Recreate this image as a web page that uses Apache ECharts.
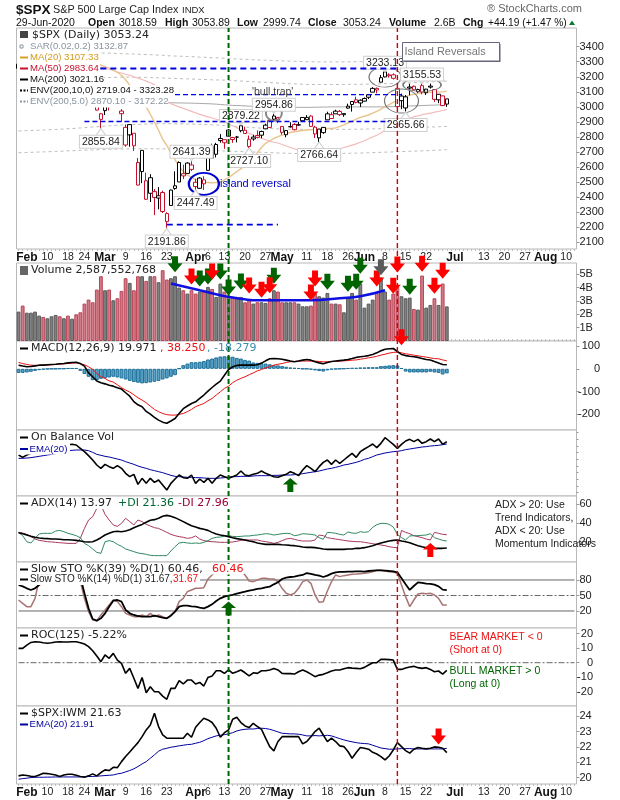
<!DOCTYPE html>
<html>
<head>
<meta charset="utf-8">
<script src="https://cdn.jsdelivr.net/npm/echarts@6/dist/echarts.min.js"></script>
<style>
  html, body { margin: 0; background: #fff; }
  #chart { width: 620px; height: 800px; }
</style>
</head>
<body>
<div id="chart"></div>
<script>
const dates = [
  'Jan 30','Jan 31','Feb 3','Feb 4','Feb 5','Feb 6','Feb 7','Feb 10','Feb 11','Feb 12','Feb 13','Feb 14',
  'Feb 18','Feb 19','Feb 20','Feb 21','Feb 24','Feb 25','Feb 26','Feb 27','Feb 28','Mar 2','Mar 3','Mar 4','Mar 5','Mar 6',
  'Mar 9','Mar 10','Mar 11','Mar 12','Mar 13','Mar 16','Mar 17','Mar 18','Mar 19','Mar 20','Mar 23','Mar 24','Mar 25','Mar 26','Mar 27',
  'Mar 30','Mar 31','Apr 1','Apr 2','Apr 3','Apr 6','Apr 7','Apr 8','Apr 9','Apr 13','Apr 14','Apr 15','Apr 16','Apr 17',
  'Apr 20','Apr 21','Apr 22','Apr 23','Apr 24','Apr 27','Apr 28','Apr 29','Apr 30','May 1','May 4','May 5','May 6','May 7','May 8',
  'May 11','May 12','May 13','May 14','May 15','May 18','May 19','May 20','May 21','May 22','May 26','May 27','May 28','May 29',
  'Jun 1','Jun 2','Jun 3','Jun 4','Jun 5','Jun 8','Jun 9','Jun 10','Jun 11','Jun 12','Jun 15','Jun 16','Jun 17','Jun 18','Jun 19',
  'Jun 22','Jun 23','Jun 24','Jun 25','Jun 26','Jun 29','Jun 30','Jul 1','Jul 2','Jul 6','Jul 7','Jul 8','Jul 9','Jul 10',
  'Jul 13','Jul 14','Jul 15','Jul 16','Jul 17','Jul 20','Jul 21','Jul 22','Jul 23','Jul 24','Jul 27','Jul 28','Jul 29','Jul 30','Jul 31',
  'Aug 3','Aug 4','Aug 5','Aug 6','Aug 7','Aug 10','Aug 11','Aug 12'
]
const monthTicks = { 'Feb 3': 'Feb', 'Mar 2': 'Mar', 'Apr 1': 'Apr', 'May 1': 'May', 'Jun 1': 'Jun', 'Jul 1': 'Jul', 'Aug 3': 'Aug' }
const weekTicks = {
  'Feb 10': '10', 'Feb 18': '18', 'Feb 24': '24', 'Mar 9': '9', 'Mar 16': '16', 'Mar 23': '23', 'Apr 6': '6', 'Apr 13': '13',
  'Apr 20': '20', 'Apr 27': '27', 'May 11': '11', 'May 18': '18', 'May 26': '26', 'Jun 8': '8', 'Jun 15': '15', 'Jun 22': '22',
  'Jul 13': '13', 'Jul 20': '20', 'Jul 27': '27', 'Aug 10': '10'
}

const opens = [
  3256,3282,3235,3281,3324,3344,3335,3318,3366,3370,
  3365,3378,3369,3380,3380,3360,3258,3238,3140,3063,
  2917,2975,3096,3046,3076,2955,2864,2814,2825,2631,
  2570,2509,2426,2437,2394,2431,2291,2345,2458,2501,
  2556,2558,2614,2499,2459,2515,2578,2739,2685,2776,
  2782,2805,2796,2799,2842,2845,2785,2787,2810,2812,
  2854,2909,2918,2930,2870,2815,2868,2883,2879,2908,
  2915,2939,2865,2794,2829,2914,2948,2954,2970,2948,
  3005,3016,3047,3026,3038,3064,3098,3123,3164,3199,
  3213,3213,3123,3072,2993,3132,3137,3101,3141,3094,
  3138,3115,3047,3073,3018.59
]
const highs = [
  3285,3282,3268,3306,3337,3347,3341,3352,3376,3381,
  3385,3381,3375,3394,3390,3360,3260,3247,3182,3097,
  2960,3091,3136,3130,3083,2985,2883,2883,2825,2661,
  2711,2563,2553,2454,2467,2443,2300,2450,2572,2638,
  2616,2632,2641.39,2522,2533,2539,2677,2756,2761,2819,
  2782,2852,2801,2807,2879.22,2868,2810,2815,2844,2842,
  2888,2922,2954.86,2930,2870,2845,2898,2892,2901,2932,
  2945,2945,2874,2852,2865,2968,2965,2981,2979,2957,
  3021,3037,3068,3050,3063,3081,3131,3129,3212,3233.13,
  3223,3223,3123,3088,3079,3154,3142,3121,3155.53,3120,
  3155,3115,3086,3074,3053.89
]
const lows = [
  3242,3214,3235,3281,3313,3334,3322,3317,3355,3369,
  3360,3367,3355,3378,3341,3328,3214,3118,3109,2977,
  2855.84,2946,2976,3034,2999,2901,2735,2735,2707,2478,
  2493,2381,2368,2281,2319,2295,2191.86,2345,2449,2501,
  2520,2558,2573,2447.49,2455,2448,2574,2657,2664,2762,
  2721,2805,2761,2764,2831,2820,2727.1,2775,2791,2791,
  2852,2860,2912,2892,2816,2798,2863,2844,2876,2908,
  2914,2870,2793,2766.64,2821,2914,2922,2954,2939,2934,
  2988,2969,3023,2999,3036,3052,3098,3090,3164,3197,
  3194,3182,2999,2985,2965.66,3077,3108,3094,3083,3079,
  3122,3033,3025,3005,2999.74
]
const closes = [
  3283.7,3225.5,3248.9,3297.6,3334.7,3345.8,3327.7,3352.1,3357.8,3379.5,
  3373.9,3380.2,3370.3,3386.2,3373.2,3337.8,3225.9,3128.2,3116.4,2978.8,
  2954.2,3090.2,3003.4,3130.1,3023.9,2972.4,2746.6,2882.2,2741.4,2480.6,
  2711,2386.1,2529.2,2398.1,2409.4,2304.9,2237.4,2447.3,2475.6,2630.1,
  2541.5,2626.7,2584.6,2470.5,2526.9,2488.7,2663.7,2659.4,2750,2789.8,
  2761.6,2846.1,2783.4,2799.6,2874.6,2823.2,2736.6,2799.3,2797.8,2836.7,
  2878.5,2863.4,2939.5,2912.4,2830.7,2842.7,2868.4,2848.4,2881.2,2929.8,
  2930.2,2870.1,2820,2852.5,2863.7,2953.9,2922.9,2971.6,2948.5,2955.5,
  2991.8,3036.1,3029.7,3044.3,3055.7,3080.8,3122.9,3112.4,3193.9,3232.4,
  3207.2,3190.1,3002.1,3041.3,3066.6,3124.7,3113.5,3115.3,3097.7,3117.9,
  3131.3,3050.3,3083.8,3009.1,3053.24
]

const ma20 = [
  3280,3280,3281,3283,3287,3292,3296,3300,3304,3308,
  3312,3316,3320,3323,3325,3326,3322,3315,3306,3292,
  3277,3268,3258,3245,3230,3210,3180,3145,3110,3080,
  3040,3000,2950,2900,2845,2785,2745,2690,2650,2605,
  2570,2548,2530,2518,2510,2502,2497,2496,2497,2500,
  2515,2530,2550,2570,2590,2610,2630,2665,2695,2730,
  2758,2775,2790,2802,2813,2822,2830,2835,2840,2843,
  2846,2848,2850,2852,2854,2856,2857,2860,2870,2880,
  2893,2905,2918,2930,2938,2946,2958,2970,2985,3000,
  3015,3030,3045,3060,3068,3078,3084,3090,3093,3095,
  3097,3098,3100,3100,3105
]
const ma50 = [
  3200,3204,3208,3212,3216,3220,3224,3228,3232,3236,
  3240,3243,3246,3249,3252,3254,3256,3258,3260,3261,
  3262,3256,3250,3242,3232,3225,3217,3209,3200,3191,
  3182,3171,3160,3148,3125,3085,3035,3022,3010,3000,
  2990,2980,2970,2960,2950,2942,2934,2926,2918,2909,
  2900,2888,2875,2862,2848,2836,2824,2812,2800,2790,
  2782,2772,2765,2760,2750,2740,2730,2722,2712,2703,
  2698,2693,2690,2690,2693,2700,2707,2714,2722,2730,
  2738,2746,2754,2765,2775,2788,2800,2812,2826,2843,
  2858,2872,2885,2900,2912,2922,2935,2940,2948,2953,
  2958,2965,2970,2976,2983.6
]
const ma200 = [
  3012,3012,3013,3013,3014,3014,3015,3015,3016,3016,
  3017,3017,3018,3018,3019,3019,3020,3020,3021,3021,
  3022,3022,3023,3023,3024,3024,3025,3025,3026,3026,
  3026,3027,3027,3027,3028,3028,3028,3027,3027,3026,
  3026,3025,3025,3024,3023,3022,3021,3020,3018,3016,
  3014,3012,3010,3009,3008,3006,3005,3004,3003,3002,
  3001,3000,2999,2998,2997,2997,2997,2997,2997,2997,
  2997,2997,2998,2998,2999,2999,3000,3000,3000,3000,
  3000,3000,3000,3000,3000,3000,3000,3000,3000,3000,
  3001,3002,3003,3004,3005,3006,3007,3008,3009,3010,
  3011,3012,3013,3014,3016
]
const envUpper10 = [
  3290,3295,3300,3305,3310,3315,3320,3325,3330,3335,
  3340,3344,3348,3351,3354,3356,3357,3358,3358,3358,
  3358,3358,3357,3356,3355,3354,3353,3352,3351,3350,
  3349,3348,3347,3346,3344,3343,3340,3339,3338,3337,
  3336,3335,3334,3332,3331,3330,3328,3327,3326,3324,
  3323,3321,3320,3318,3317,3316,3314,3313,3312,3311,
  3310,3309,3308,3307,3306,3305,3304,3303,3302,3301,
  3300,3300,3300,3299,3299,3299,3299,3299,3299,3299,
  3299,3300,3300,3300,3300,3300,3301,3302,3303,3304,
  3305,3306,3307,3308,3310,3311,3312,3314,3315,3316,
  3318,3319,3320,3322,3323
]
const envUpper5 = [
  3140,3144,3148,3152,3156,3160,3163,3166,3169,3172,
  3175,3178,3180,3182,3184,3186,3187,3188,3189,3190,
  3192,3194,3195,3196,3197,3198,3198,3198,3198,3197,
  3197,3196,3195,3194,3193,3192,3191,3190,3189,3188,
  3187,3186,3185,3184,3183,3182,3181,3180,3179,3179,
  3178,3176,3175,3173,3172,3170,3169,3167,3166,3164,
  3163,3161,3160,3158,3157,3155,3154,3153,3152,3150,
  3149,3149,3149,3149,3149,3149,3149,3149,3149,3149,
  3150,3150,3150,3150,3151,3151,3152,3152,3153,3154,
  3155,3155,3156,3157,3158,3160,3161,3162,3164,3165,
  3166,3168,3169,3170,3172
]
const envLower5 = [
  2840,2841,2842,2843,2844,2845,2846,2847,2849,2850,
  2852,2853,2855,2856,2858,2860,2862,2864,2866,2868,
  2870,2872,2874,2876,2878,2880,2881,2882,2883,2884,
  2885,2886,2887,2887,2888,2888,2888,2888,2887,2887,
  2887,2886,2886,2885,2884,2883,2882,2881,2880,2878,
  2876,2874,2872,2870,2868,2866,2864,2862,2860,2858,
  2857,2856,2855,2854,2853,2852,2852,2851,2851,2850,
  2850,2850,2850,2850,2850,2850,2850,2850,2851,2851,
  2851,2851,2852,2852,2853,2853,2854,2854,2855,2856,
  2857,2857,2858,2859,2860,2861,2862,2863,2864,2865,
  2866,2867,2868,2869,2870
]
const envLower10 = [
  2695,2696,2697,2698,2699,2700,2701,2702,2703,2704,
  2705,2706,2708,2709,2710,2711,2712,2713,2714,2715,
  2716,2717,2718,2719,2720,2720,2721,2721,2722,2722,
  2722,2722,2722,2722,2721,2721,2720,2720,2719,2718,
  2717,2716,2715,2714,2713,2712,2711,2710,2709,2708,
  2707,2706,2705,2704,2703,2702,2701,2700,2699,2698,
  2697,2696,2695,2694,2693,2692,2691,2690,2690,2689,
  2689,2689,2689,2689,2690,2690,2690,2690,2691,2691,
  2692,2692,2693,2693,2694,2695,2696,2697,2698,2699,
  2700,2701,2702,2703,2704,2705,2706,2707,2708,2709,
  2710,2711,2712,2714,2716
]

// billions of shares
const volume = [
  2.2,2.65,2.12,2.12,2.2,1.9,1.8,1.7,1.85,1.95,
  1.85,1.7,1.9,1.67,2,2.15,2.8,3.1,2.9,3.85,
  4.85,3.8,3.85,3.05,3.2,3.75,4.7,4.35,3.8,4.85,
  4.85,4.5,4.85,4.85,4.4,5.3,4.6,4.7,4.85,4,
  3.8,3.55,3.8,3.55,3.7,3.7,4.05,3.9,3.3,4.3,
  3.7,3.3,3.3,3.3,3.3,2.9,3.1,2.8,2.9,2.9,
  2.85,3.2,3.8,3.7,2.9,2.9,2.9,2.9,2.8,2.6,
  2.6,2.65,3.55,3.35,3.25,3.6,2.8,2.8,2.75,2.15,
  3.25,3.6,3.1,4.3,2.5,2.8,3.1,3.6,4.75,3.7,
  3.1,3.55,4.05,3.35,3.2,3.25,2.4,2.35,4.9,2.5,
  2.7,3.2,2.7,4.3,2.59
]
const volumeCurve = [[37,4.3],[44,3.8],[52,3.25],[60,3.05],[71,3.05],[78,3.2],[83,3.35],[89,3.8]]

const macdLine = [
  16,12,9,10,13,16,16,18,19,20,
  22,23,26,28,29,23,12,-18,-35,-53,
  -61,-66,-72,-76,-83,-89,-105,-120,-144,-158,
  -166,-187,-199,-213,-225,-234,-239,-229,-218,-196,
  -175,-163,-152,-145,-130,-115,-98,-82,-67,-54,
  -28,-3,9,15,16,16,16,16,18,25,
  35,44,45,44,42,38,34,31,34,38,
  41,38,31,26,22,28,32,34,36,38,
  41,45,50,53,55,58,63,70,79,86,
  88,89,76,63,58,55,53,50,45,41,
  39,32,26,19,18
]
const macdSignal = [
  28,23,19,16,15,15,16,16,18,19,
  20,22,23,25,26,22,18,9,-3,-20,
  -35,-42,-53,-58,-70,-83,-93,-102,-114,-127,
  -137,-149,-164,-178,-188,-196,-201,-203,-203,-200,
  -196,-188,-178,-166,-159,-152,-140,-130,-115,-101,
  -86,-76,-61,-50,-42,-35,-26,-18,-9,-3,
  4,10,16,20,23,28,31,32,34,34,
  34,34,34,32,31,31,32,32,34,35,
  36,38,39,42,45,48,51,55,60,64,
  69,72,73,70,66,63,60,57,54,51,
  48,45,44,39,35
]
const macdHist = [
  -18,-18,-16,-13,-9,-6,-3,-1,0,0,
  1,1,3,3,3,-9,-23,-35,-50,-50,
  -44,-41,-38,-35,-38,-42,-47,-53,-58,-61,
  -64,-63,-60,-57,-53,-47,-42,-35,-28,1,
  16,23,29,29,31,34,41,45,50,54,
  55,55,53,48,45,39,36,28,26,25,
  23,20,16,15,12,9,6,4,3,0,
  0,-3,-7,-10,-12,-7,-3,-1,0,1,
  3,4,4,6,6,7,7,7,12,13,
  15,16,15,3,-12,-16,-16,-16,-16,-16,
  -13,-16,-18,-25,-20
]

// OBV has no printed scale: read as height above the panel floor
const obv = [
  123,116,123,128,133,135,138,137,138,143,
  145,148,153,155,153,143,133,121,108,93,
  83,95,88,83,91,83,68,58,65,35,
  53,38,53,41,48,33,18,38,51,63,
  55,53,63,38,51,41,53,38,53,63,
  58,53,58,63,75,63,61,65,68,75,
  68,63,58,56,61,65,73,68,61,78,
  91,83,73,88,101,108,95,108,98,108,
  118,128,116,133,141,148,156,145,158,175,
  165,155,143,155,165,170,163,170,158,163,
  171,163,171,155,163
]
const obvEma = [
  113,113,114,115,117,119,121,123,125,127,
  129,133,136,137,138,138,138,136,131,125,
  122,119,117,114,111,108,103,99,95,90,
  86,83,79,76,73,70,66,62,59,58,
  57,56,56,55,55,54,53,53,53,54,
  55,57,58,58,59,59,59,60,61,61,
  61,61,62,62,63,63,63,64,65,67,
  69,71,73,75,78,81,83,86,89,93,
  95,98,101,105,110,113,118,123,126,129,
  131,133,134,136,139,141,143,145,147,148,
  150,151,152,154,156
]

const adx = [
  30.2,29.1,27.7,26.3,25.3,24.6,24.2,23.9,23.5,23.5,
  23.2,22.8,22.8,22.5,22.1,21.4,20.7,20.4,20.7,22.5,
  24.9,27.7,29.5,31.2,31.6,31.2,31.9,33.3,35.4,37.2,
  38.9,41.1,43.2,43.9,45.3,47.4,48.4,47.4,46,43.9,
  41.8,39.6,37.5,36.1,34.7,33.7,32.6,30.5,28.8,27.7,
  27,26,24.9,23.9,23.2,22.5,21.4,20.7,19.3,18.6,
  17.9,17.9,17.9,17.9,17.5,17.2,16.8,16.5,15.8,15.1,
  14.7,14.7,14.4,13.7,13,12.6,12.6,12.6,12.6,12.6,
  13,13,13.7,13.7,14.4,15.4,16.5,17.9,19.3,20.4,
  21.4,22.1,22.5,21.4,20.7,19.6,17.9,16.5,15.4,14.4,
  14,13.7,13.7,13.7,14
]
const plusDI = [
  30.5,27,20.7,19.3,24.2,28.8,29.5,29.5,29.5,31.9,
  32.6,31.2,29.5,28.4,27,24.9,18.9,16.5,13,9.5,
  8.4,20.7,21.8,20.7,17.9,15.8,13,11.6,10.2,8.8,
  8.1,7.4,6.3,6,6,6,6,10.9,15.4,19.3,
  20,19.3,18.9,19.3,18.9,20,21.8,24.2,25.3,25.6,
  26.7,27,26.3,26,26.3,26.7,26.7,27.4,27.7,28.4,
  29.1,28.8,27.7,28.4,29.1,29.5,29.1,27,27.7,29.1,
  28.8,28.4,27.7,24.9,23.2,30.5,30.2,29.5,28.4,27.7,
  30.9,29.8,29.5,31.2,30.5,31.2,35.8,38.6,40,40,
  39,36.1,28.4,24.9,22.5,26.7,27,27,27.4,27.7,
  29.1,24.9,23.5,22.1,21.4
]
const minusDI = [
  30.5,29.8,28.4,26.3,23.5,22.1,21.4,20.7,20.4,20,
  19.6,19.3,18.9,18.9,18.9,24.2,34.7,43.5,47,55.8,
  59.3,49.5,43.5,38.3,36.8,40,45.3,41.8,38.3,43.5,
  41.8,39,37.2,35.4,34.7,32.6,30.5,28.4,27,26,
  25.3,24.2,24.9,26.7,23.5,21.8,21.1,20.7,20.4,20,
  20,20,20.4,21.1,22.1,22.5,22.5,22.5,22.5,21.4,
  20.7,20,18.9,20,21.8,23.5,24.2,23.2,22.1,21.4,
  21.4,21.4,22.5,27.7,27,24.9,24.2,23.5,22.8,22.1,
  21.4,21.1,20.7,20.7,20,19.3,18.6,17.9,17.2,16.5,
  15.4,14.7,14.4,32.6,30.5,29.1,27,26,24.9,23.5,
  22.5,30.5,29.5,28.4,28
]

const sto39 = [
  70.3,67.7,63.9,60.7,63.9,70.3,76.8,80,83.2,86.5,
  89.7,92.9,96.1,96.1,96.1,86.5,54.2,25.2,4.5,1.3,
  5.8,15.5,28.4,40,41.3,38.1,22,15.5,12.3,10.3,
  9,9,9,11,9,7.1,5.8,11,18.7,28.4,
  30.3,30.3,29,28.4,26.5,25.2,28.4,32.9,39.4,44.5,
  47.8,49.7,51,53.6,55.5,57.4,59.4,60.7,62.6,63.9,
  65.8,67.1,71.6,75.5,81.9,84.5,85.8,86.5,88.4,89.7,
  93.5,91.6,89.7,88.4,85.8,88.4,92.3,94.8,95.5,95.5,
  96.1,96.1,96.8,96.8,96.1,97.4,98.1,98.7,98.7,98.1,
  97.4,96.8,94.8,83.2,71.6,60.7,68.4,75.5,74.2,72.9,
  72.3,71,67.7,61.3,60.46
]
const sto14 = [
  41.3,34.9,28.4,28.4,44.5,80,96.1,90,88,85,
  82,85,88,90,96,76.8,44.5,18.7,2.6,1.3,
  12.3,22,31.6,41.3,38.1,28.4,15.5,12.3,9,9,
  12.3,9,15.5,9,12.3,9,5.8,12.3,18.7,38.1,
  44.5,57.4,60.7,63.9,63.9,65.2,81.9,89.7,96.1,99.4,
  96.1,92.9,92.9,92.9,94.8,89.7,78.1,76.8,80,83.2,
  83.2,81.9,81.9,76.8,63.9,54.2,51,54.2,63.9,76.8,
  80,73.5,51,36.8,38.1,58.7,76.8,89.7,86.5,88.4,
  89.7,91,91.6,92.3,92.9,94.2,96.1,98.7,98.7,97.4,
  96.1,95.5,92.9,70.3,47.8,28.4,41.3,52.9,54.2,53.6,
  54.2,51,44.5,31.6,31.67
]

const roc = [
  9.8,9.8,12.1,13.9,14.4,14.2,13.7,13.3,13.7,14.2,
  14.4,14.2,14.2,14.4,14.4,13.7,12.8,11,8.2,4.6,
  0.7,5.3,3,6.4,1.8,-0.5,-7.3,-3.9,-10.7,-17.6,
  -10.1,-20.6,-16.5,-19.9,-19.9,-22.9,-25.1,-17.6,-17.6,-12.3,
  -14.6,-11.9,-11.9,-14.6,-13.5,-16,-10.1,-9.1,-5.5,-5.5,
  -7.3,-5,-7.3,-6.2,-5,-6.9,-9.1,-6.9,-7.3,-5.5,
  -5.5,-5,-3.9,-5,-7.3,-7.5,-7.5,-7.8,-6.2,-5,
  -6.2,-7.8,-9.6,-8.5,-8,-6.9,-5.7,-5,-5,-4.1,
  -3.4,-3.7,-3.9,-4.1,-3.2,-1.6,0,0,2.3,2.3,
  2.1,1.8,-4.6,-4.6,-3.7,-3,-2.5,-3.4,-3.9,-3.4,
  -4.6,-6.2,-5.7,-7.8,-5.22
]

const ratio = [
  20.11,20.17,20.13,20.09,20.07,20.17,20.28,20.26,20.22,20.17,
  20.07,20.17,20.22,20.22,20.15,20.07,20.02,20.11,20.24,20.11,
  20.33,20.5,20.46,20.67,20.65,21.04,21.37,21.67,21.98,22.28,
  22.67,23.11,23.43,24.2,23.33,22.78,22.57,22.57,22.57,22.57,
  22.57,22.89,22.63,23.28,23.59,23.87,23.76,23.59,23.22,22.63,
  22.93,23.11,23.8,23.93,23.59,23.37,23.26,23.54,23.33,23.15,
  22.57,22.02,21.74,22.35,22.67,22.67,22.67,22.67,22.67,22.2,
  22.35,22.67,23,23.22,22.78,22.35,22.57,22.35,22.07,22.02,
  21.7,21.26,21.63,21.96,21.91,21.85,21.65,21.54,21.37,21.15,
  21.41,21.8,22.28,22.02,21.76,21.59,21.85,21.96,21.91,21.87,
  21.91,22,21.98,21.91,21.63
]
const ratioEma = [
  19.89,19.93,19.96,20,20.02,20.02,20.02,20.03,20.03,20.04,
  20.04,20.04,20.04,20.04,20.04,20.04,20.07,20.07,20.07,20.09,
  20.11,20.13,20.15,20.17,20.24,20.28,20.37,20.46,20.57,20.72,
  20.89,21.04,21.26,21.48,21.72,21.85,21.91,21.98,22.02,22.07,
  22.11,22.15,22.17,22.24,22.3,22.41,22.54,22.63,22.72,22.76,
  22.8,22.85,22.93,23.04,23.11,23.15,23.17,23.17,23.2,23.22,
  23.2,23.15,23.07,22.98,22.89,22.87,22.85,22.85,22.83,22.78,
  22.72,22.72,22.74,22.72,22.74,22.76,22.72,22.63,22.54,22.46,
  22.39,22.33,22.28,22.24,22.22,22.2,22.11,22.02,21.93,21.89,
  21.85,21.85,21.87,21.89,21.89,21.89,21.87,21.87,21.87,21.87,
  21.87,21.87,21.87,21.87,21.91
]

const priceTicks = [2100,2200,2300,2400,2500,2600,2700,2800,2900,3000,3100,3200,3300,3400]
const volumeTicks = [1,2,3,4,5]
const macdTicks = [-200,-100,0,100]
const adxTicks = [20,40,60]
const stoTicks = [20,50,80]
const rocTicks = [-20,-10,0,10,20]
const ratioTicks = [20,21,22,23,24]

// annotations drawn on the chart by hand
const lowCallouts = [[20,2855.84],[36,2191.86],[43,2447.49],[56,2727.1],[73,2766.64],[94,2965.66]]
const highCallouts = [[42,2641.39],[54,2879.22],[62,2954.86],[89,3233.13],[98,3155.53]]
const heavyLevels = [[[15,3255],[92,3255]], [[36,2217],[63,2217]]]
const lightLevels = [[[38,3082],[93,3082]], [[16,2903],[90,2903]]]
const ellipses = [[89,3198,32,20],[98,3146,38,13],[93,3039,34,24]]
const blueRing = [[45,2488,30,22]]
const grayRing = [[62,2960,16,16]]
const greenDown = [[38,5.75],[44,4.68],[46,4.83],[49,5.21],[51,4],[54,4.46],[62,4.88],[75,4.43],[80,4.28],[82,4.43],[83,5.63],[95,4.06]]
const redDown = [[42,4.83],[47,5.21],[56,4.16],[59,3.84],[61,4.18],[71,3.63],[72,4.68],[87,4.68],[91,4.13],[92,5.73],[98,5.78],[101,4.13],[103,5.26],[93,0.28]]
const grayDown = [[88,5.53]]
const obvUp = [[66,33]]
const stoUp = [[51,25]]
const adxUp = [[100,11.9]]
const ratioDown = [[102,22.68]]
const greenMarker = [[51,0],[51,1]]
const redMarker = [[92,0],[92,1]]

const SANS = '"Liberation Sans", Arial, sans-serif'
const WIDE = '"DejaVu Sans", Verdana, sans-serif'
const RED = '#c8102e'
const ARROW_DOWN = 'path://M4.5 0H10.5V7H15L7.5 16L0 7H4.5Z'
const ARROW_UP = 'path://M7.5 0L15 7H10.5V15H4.5V7H0Z'

const panels = [
  { top: 28, height: 221, min: 2055.5, max: 3524.3, ticks: priceTicks },
  { top: 263, height: 78, min: 0, max: 5.84, ticks: volumeTicks, fmt: v => v + 'B' },
  { top: 341, height: 89, min: -268.4, max: 122, ticks: macdTicks, right: 23.5 },
  { top: 430, height: 66, min: 0, max: 198, ticks: [], minor: [10,30,50,70,90,110,130,150,170,190] },
  { top: 496, height: 66, min: -0.7, max: 68.8, ticks: adxTicks },
  { top: 562, height: 66, min: -12.9, max: 114.8, ticks: stoTicks },
  { top: 628, height: 78, min: -29.7, max: 23.8, ticks: rocTicks, right: 16.5 },
  { top: 706, height: 78, min: 19.58, max: 24.67, ticks: ratioTicks }
]
const OVERLAY = panels.length

const grids = panels.map(p => ({
  left: 16.5, width: 560, top: p.top, height: p.height, show: true,
  borderColor: '#b8b8b8', borderWidth: 1, backgroundColor: '#fff', z: 0
}))
grids.push({ left: 16.5, width: 560, top: 28, height: 756 })

const timeLabel = {
  show: true, margin: 3, color: '#222', fontFamily: SANS, fontSize: 10.5,
  interval: (i, v) => v in monthTicks || v in weekTicks,
  formatter: v => (v in monthTicks ? `{m|${monthTicks[v]}}` : weekTicks[v] || ''),
  rich: { m: { fontFamily: SANS, fontSize: 12, fontWeight: 'bold', color: '#111' } }
}
const xAxes = grids.map((g, i) => {
  const labelled = i === 0 || i === OVERLAY - 1
  return {
    type: 'category', gridIndex: i, data: dates, boundaryGap: true,
    position: i === 1 ? 'top' : 'bottom',
    axisLine: { show: false },
    axisTick: {
      show: labelled || i === 1, interval: 0, alignWithLabel: true, length: 2,
      lineStyle: { color: '#bdbdbd', width: 1 }
    },
    splitLine: { show: false },
    axisLabel: labelled ? timeLabel : { show: false }
  }
})
const yAxes = panels.map((p, i) => ({
  type: 'value', gridIndex: i, position: 'right', min: p.min, max: p.max, scale: true,
  splitLine: { show: false },
  axisLine: { show: false },
  axisTick: {
    show: true, length: p.minor ? 2 : 3, customValues: p.minor || p.ticks,
    lineStyle: { color: '#999', width: 1 }
  },
  axisLabel: {
    show: true, customValues: p.ticks, color: '#222', fontFamily: SANS, fontSize: 11,
    margin: p.right || 3, align: p.right ? 'right' : 'left', formatter: p.fmt || (v => String(v))
  }
}))
yAxes.push({ type: 'value', gridIndex: OVERLAY, min: 0, max: 1, show: false })

const isUp = i => i === 0 || closes[i] >= closes[i - 1]

const candleData = closes.map((c, i) => {
  const tone = isUp(i) ? '#000' : RED
  return {
    value: [opens[i], c, lows[i], highs[i]],
    itemStyle: { color: '#fff', color0: tone, borderColor: tone, borderColor0: tone, borderWidth: 1 }
  }
})
const volumeData = volume.map((v, i) => ({
  value: v,
  itemStyle: isUp(i)
    ? { color: '#808080', borderColor: '#5a5a5a', borderWidth: 1 }
    : { color: '#cf7a84', borderColor: '#bb4458', borderWidth: 1 }
}))

function line (grid, data, color, width, extra) {
  return Object.assign({
    type: 'line', xAxisIndex: grid, yAxisIndex: grid, data, showSymbol: false, symbol: 'none',
    silent: true, z: 3, lineStyle: { color, width }
  }, extra)
}
function dotted (data) {
  return line(0, data, '#bdbdbd', 1, { lineStyle: { color: '#bdbdbd', width: 1, type: [3, 3] } })
}
function arrows (grid, data, symbol, color, size) {
  return {
    type: 'scatter', xAxisIndex: grid, yAxisIndex: grid, data, symbol, symbolSize: size,
    itemStyle: { color, opacity: 1 }, clip: false, silent: true, z: 30
  }
}
function rings (data, color, width) {
  return {
    type: 'scatter', xAxisIndex: 0, yAxisIndex: 0, data, symbol: 'circle',
    symbolSize: v => [v[2], v[3]],
    itemStyle: { color: 'rgba(0,0,0,0)', borderColor: color, borderWidth: width, opacity: 1 },
    clip: false, silent: true, z: 12
  }
}
function level (points, width, dash) {
  return line(0, points, '#0000e0', width, { z: 40, clip: false, lineStyle: { color: '#0000e0', width, type: dash } })
}
function callouts (data, below) {
  const text = { show: true, position: below ? 'bottom' : 'top', distance: below ? 7 : 3, formatter: p => p.value[1].toFixed(2),
    backgroundColor: '#fff', borderColor: '#cfcfcf', borderWidth: 1, padding: [1, 2, 0, 2],
    color: '#222', fontFamily: SANS, fontSize: 10.5 }
  return [
    { type: 'scatter', xAxisIndex: 0, yAxisIndex: 0, data,
      symbol: below ? 'path://M5 0L10 7L0 7Z' : 'path://M0 0L10 0L5 7Z', symbolSize: [10, 7],
      symbolOffset: [0, below ? 3.5 : -3.5],
      itemStyle: { color: '#fff', borderColor: '#cfcfcf', borderWidth: 1, opacity: 1 }, silent: true, z: 14 },
    { type: 'scatter', xAxisIndex: 0, yAxisIndex: 0, data, symbol: 'circle', symbolSize: 0.1,
      itemStyle: { color: 'rgba(0,0,0,0)', opacity: 1 }, label: text, silent: true, z: 15 }
  ]
}
function hLevel (grid, value, dash) {
  return line(grid, [[0, value], [135, value]], '#666', 1, { z: 2, lineStyle: { color: '#666', width: 1, type: dash } })
}
const DASH_DOT = [6, 2, 2, 2]

const series = [
  dotted(envUpper10), dotted(envUpper5), dotted(envLower5), dotted(envLower10),
  line(0, ma200, '#a8a8a8', 1),
  line(0, ma50, '#f3bcbc', 1.2),
  line(0, ma20, '#eac48e', 1.4),
  {
    type: 'candlestick', xAxisIndex: 0, yAxisIndex: 0, data: candleData, barWidth: 4, silent: true, z: 5
  },
  rings(blueRing, '#0000d0', 2), rings(grayRing, '#888', 2), rings(ellipses, '#777', 1),
  ...callouts(lowCallouts, true), ...callouts(highCallouts, false),
  level(heavyLevels[0], 1.8, [6, 4]), level(heavyLevels[1], 1.8, [6, 4]),
  level(lightLevels[0], 1.3, [5, 3]), level(lightLevels[1], 1.3, [5, 3]),

  { type: 'bar', xAxisIndex: 1, yAxisIndex: 1, data: volumeData, barWidth: 3.8, silent: true, z: 3 },
  line(1, volumeCurve, '#1010e0', 2.5, { smooth: true, z: 8 }),

  { type: 'bar', xAxisIndex: 2, yAxisIndex: 2, data: macdHist, barWidth: 3.8, silent: true, z: 3,
    itemStyle: { color: '#55a2c9', borderColor: '#1f6f97', borderWidth: 1 } },
  line(2, macdSignal, '#ee1111', 1, { z: 4 }),
  line(2, macdLine, '#000', 1.6, { z: 5 }),

  line(3, obvEma, '#0000a0', 1),
  line(3, obv, '#000', 1.6, { z: 4 }),

  line(4, minusDI, '#a83a5c', 1),
  line(4, plusDI, '#2f8a62', 1),
  line(4, adx, '#000', 1.6, { z: 4 }),

  hLevel(5, 80, 'solid'), hLevel(5, 50, DASH_DOT), hLevel(5, 20, 'solid'),
  line(5, sto14, '#a87474', 1.5),
  line(5, sto39, '#000', 1.8, { z: 4 }),

  hLevel(6, 0, DASH_DOT),
  line(6, roc, '#000', 1.6, { z: 4 }),

  line(7, ratioEma, '#0000a0', 1),
  line(7, ratio, '#000', 1.6, { z: 4 }),

  line(OVERLAY, greenMarker, '#006400', 2, { z: 20, clip: false, lineStyle: { color: '#006400', width: 2, type: [5, 3] } }),
  line(OVERLAY, redMarker, '#d40000', 1.4, { z: 20, clip: false, lineStyle: { color: '#d40000', width: 1.4, type: [5, 3] } }),

  arrows(1, greenDown, ARROW_DOWN, '#006400', [15, 16]),
  arrows(1, redDown, ARROW_DOWN, '#ff0000', [15, 16]),
  arrows(1, grayDown, ARROW_DOWN, '#5a5a5a', [15, 16]),
  arrows(3, obvUp, ARROW_UP, '#006400', [15, 14]),
  arrows(5, stoUp, ARROW_UP, '#006400', [15, 14]),
  arrows(4, adxUp, ARROW_UP, '#ff0000', [15, 14]),
  arrows(7, ratioDown, ARROW_DOWN, '#ff0000', [15, 16])
]

// text and legend furniture
function txt (x, y, text, color, size, family, bold) {
  return {
    type: 'text', x, y, z: 100, silent: true,
    style: {
      text, fill: color || '#111', fontFamily: family || WIDE, fontSize: size || 11,
      fontWeight: bold ? 'bold' : 'normal', verticalAlign: 'middle', textAlign: 'left'
    }
  }
}
function mask (x, y, w, h) {
  return { type: 'rect', z: 90, silent: true, shape: { x, y, width: w, height: h }, style: { fill: '#fff' } }
}
function key (y, color, dots) {
  return {
    type: 'line', z: 100, silent: true, shape: { x1: 20, y1: y, x2: 28, y2: y },
    style: { stroke: color, lineWidth: 2, lineDash: dots ? [2, 1.5] : null }
  }
}

const graphic = [
  txt(16, 10, '$SPX', '#111', 13.5, SANS, true),
  txt(53, 10, 'S&P 500 Large Cap Index', '#222', 10.8, SANS),
  txt(182, 10, 'INDX', '#222', 9.5, SANS),
  txt(16, 23, '29-Jun-2020', '#111', 10.5, SANS),
  txt(88, 23, 'Open', '#111', 10.5, SANS, true), txt(119, 23, '3018.59', '#111', 10.5, SANS),
  txt(165, 23, 'High', '#111', 10.5, SANS, true), txt(192, 23, '3053.89', '#111', 10.5, SANS),
  txt(237, 23, 'Low', '#111', 10.5, SANS, true), txt(263, 23, '2999.74', '#111', 10.5, SANS),
  txt(308, 23, 'Close', '#111', 10.5, SANS, true), txt(343, 23, '3053.24', '#111', 10.5, SANS),
  txt(389, 23, 'Volume', '#111', 10.5, SANS, true), txt(434, 23, '2.6B', '#111', 10.5, SANS),
  txt(463, 23, 'Chg', '#111', 10.5, SANS, true), txt(488, 23, '+44.19 (+1.47 %)', '#111', 10.2, SANS),
  { type: 'polygon', z: 100, silent: true, shape: { points: [[569, 25], [575, 25], [572, 20.5]] }, style: { fill: '#0a7a2a' } },
  txt(487, 9, '® StockCharts.com', '#666', 11, SANS),

  mask(17, 29, 134, 11), txt(32, 35, '$SPX (Daily) 3053.24', '#222'),
  { type: 'rect', z: 100, silent: true, shape: { x: 20, y: 31, width: 8, height: 7 }, style: { fill: '#444' } },
  mask(17, 41, 110, 11), txt(30, 46.5, 'SAR(0.02,0.2) 3132.87', '#8a95a0', 9.6, SANS),
  { type: 'rect', z: 100, silent: true, shape: { x: 20, y: 45, width: 3, height: 3 }, style: { fill: '#fff', stroke: '#8a95a0' } },
  mask(17, 52, 83, 11), key(57.5, '#d8a028'), txt(30, 57.5, 'MA(20) 3107.33', '#d39a1a', 9.6, SANS),
  mask(17, 63, 83, 11), key(68.5, RED), txt(30, 68.5, 'MA(50) 2983.64', RED, 9.6, SANS),
  mask(17, 74, 87, 11), key(79.5, '#000'), txt(30, 79.5, 'MA(200) 3021.16', '#111', 9.6, SANS),
  mask(17, 85, 155, 11), key(90.5, '#000', true), txt(30, 90.5, 'ENV(200,10,0) 2719.04 - 3323.28', '#111', 9.6, SANS),
  mask(17, 96, 151, 11.5), key(101.5, '#8a95a0', true), txt(30, 101.5, 'ENV(200,5.0) 2870.10 - 3172.22', '#8a95a0', 9.6, SANS),

  txt(252, 92, "'bull trap'", '#444', 10.5, SANS),
  txt(220, 184, 'island reversal', '#0000d0', 11, SANS),
  { type: 'rect', z: 100, silent: true, shape: { x: 403.5, y: 44, width: 97, height: 18 }, style: { fill: '#66667a' } },
  { type: 'rect', z: 100, silent: true, shape: { x: 402.5, y: 42.5, width: 97, height: 18.5 }, style: { fill: '#fff', stroke: '#66667a', lineWidth: 1 } },
  txt(404.5, 51.5, 'Island Reversals', '#777', 11, SANS),

  { type: 'rect', z: 100, silent: true, shape: { x: 20, y: 266, width: 8, height: 9 }, style: { fill: '#666' } },
  txt(31, 270.5, 'Volume 2,587,552,768', '#222'),

  key(348.5, '#000'),
  txt(31, 348.5, 'MACD(12,26,9) 19.971', '#222'),
  txt(160, 348.5, ', 38.250', '#ee1111'),
  txt(207, 348.5, ', -18.279', '#3a8cb0'),

  mask(17, 432, 100, 11), key(437.5, '#000'), txt(31, 437.5, 'On Balance Vol', '#222'),
  mask(17, 444, 53, 10.5), key(449, '#0000a0'), txt(29.5, 449, 'EMA(20)', '#0000a0', 9.6, SANS),

  mask(17, 498, 215, 11), key(503.5, '#000'),
  txt(31, 503.5, 'ADX(14) 13.97', '#222'),
  txt(118, 503.5, '+DI 21.36', '#006633'),
  txt(178, 503.5, '-DI 27.96', '#990033'),

  mask(17, 564, 227, 10.5), key(569.5, '#000'),
  txt(31, 569.5, 'Slow STO %K(39) %D(1) 60.46,', '#222'),
  txt(212, 569.5, '60.46', '#ee1111'),
  mask(17, 574.5, 183, 10.5), key(579.5, '#000'),
  txt(30, 579.5, 'Slow STO %K(14) %D(1) 31.67,', '#222', 10, SANS),
  txt(173, 579.5, '31.67', '#ee1111', 10, SANS),

  mask(17, 630, 115, 11), key(635.5, '#000'), txt(31, 635.5, 'ROC(125) -5.22%', '#222'),
  key(713.5, '#000'), txt(31, 713.5, '$SPX:IWM 21.63', '#222'),
  key(724.5, '#0000a0'), txt(29.5, 724.5, 'EMA(20) 21.91', '#0000a0', 9.6, SANS),

  txt(495, 505, 'ADX > 20: Use', '#222', 10.5, SANS),
  txt(495, 518, 'Trend Indicators,', '#222', 10.5, SANS),
  txt(495, 531, 'ADX < 20: Use', '#222', 10.5, SANS),
  txt(495, 544, 'Momentum Indicators', '#222', 10.5, SANS),
  txt(449.5, 637, 'BEAR MARKET < 0', '#ee1111', 10.5, SANS),
  txt(449.5, 650, '(Short at 0)', '#ee1111', 10.5, SANS),
  txt(449.5, 671, 'BULL MARKET > 0', '#006400', 10.5, SANS),
  txt(449.5, 684, '(Long at 0)', '#006400', 10.5, SANS)
]

const chart = echarts.init(document.getElementById('chart'), null, { renderer: 'canvas' })
chart.setOption({
  animation: false,
  backgroundColor: '#fff',
  grid: grids,
  xAxis: xAxes,
  yAxis: yAxes,
  series,
  graphic: { elements: graphic }
})
</script>
</body>
</html>
